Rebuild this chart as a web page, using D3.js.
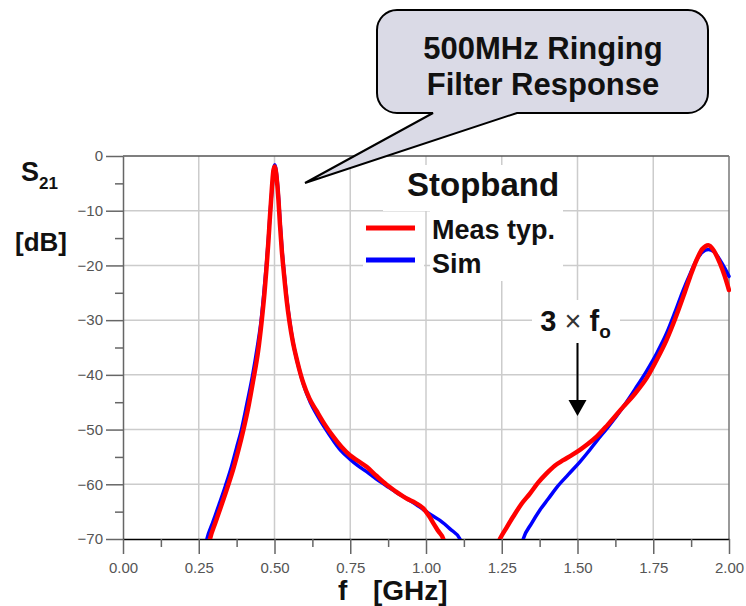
<!DOCTYPE html>
<html>
<head>
<meta charset="utf-8">
<script src="https://cdn.jsdelivr.net/npm/d3@7"></script>
<style>
  body { margin: 0; background: #fff; }
  svg { display: block; font-family: "Liberation Sans", Arial, sans-serif; }
</style>
</head>
<body>
<svg id="chart" width="746" height="606"></svg>
<script>
// frequency axis [GHz] and S21 axis [dB]
var xTicks = [0, 0.25, 0.5, 0.75, 1.0, 1.25, 1.5, 1.75, 2.0];
var xMinorTicks = [0.125, 0.375, 0.625, 0.875, 1.125, 1.375, 1.625, 1.875];
var yTicks = [0, -10, -20, -30, -40, -50, -60, -70];
var yMinorTicks = [-5, -15, -25, -35, -45, -55, -65];

// measured, fundamental lobe
var measLowF = [0.283, 0.287, 0.305, 0.325, 0.345, 0.365, 0.382, 0.397, 0.415, 0.430, 0.445, 0.458, 0.467, 0.474, 0.480, 0.485, 0.490, 0.496, 0.500,
  0.504, 0.508, 0.513, 0.518, 0.524, 0.532, 0.540, 0.550, 0.560, 0.575, 0.595, 0.615, 0.639, 0.665, 0.694, 0.720, 0.749, 0.775,
  0.804, 0.835, 0.870, 0.900, 0.936, 0.965, 0.991, 1.010, 1.024, 1.040, 1.057, 1.062];
var measLowDb = [-71, -70, -67, -63.8, -60.5, -57, -53.5, -50.1, -45.5, -40.9, -36, -30, -25, -20.2, -15.5, -11.1, -7, -2.8, -1.9,
  -2.6, -4.5, -8, -12.5, -17.2, -22, -26.3, -30.5, -33.8, -37.5, -41.5, -44.3, -46.6, -49, -51.3, -53.1, -54.7, -55.7,
  -56.8, -58.4, -60.1, -61.3, -62.6, -63.4, -64.4, -65.8, -67.1, -68.5, -70, -71];

// simulated, fundamental lobe
var simLowF = [0.273, 0.277, 0.296, 0.317, 0.338, 0.358, 0.375, 0.391, 0.410, 0.428, 0.443, 0.456, 0.465, 0.473, 0.480, 0.486, 0.492, 0.497, 0.501,
  0.505, 0.509, 0.514, 0.519, 0.525, 0.533, 0.541, 0.551, 0.561, 0.577, 0.597, 0.618, 0.640, 0.665, 0.694, 0.720, 0.749, 0.775,
  0.804, 0.835, 0.870, 0.900, 0.936, 0.965, 0.991, 1.020, 1.046, 1.080, 1.112, 1.118];
var simLowDb = [-71, -70, -67, -63.7, -60.3, -56.8, -53.3, -50, -45, -40, -35, -30, -25, -20, -15, -10, -6, -2.5, -1.6,
  -2.5, -4.5, -8, -12.5, -17.2, -22, -26.3, -30.5, -34, -38, -42, -45, -47.3, -49.6, -52, -53.9, -55.4, -56.6,
  -57.7, -59, -60.3, -61.4, -62.6, -63.6, -64.6, -65.7, -66.6, -68.2, -70, -71];

// measured, third harmonic lobe
var measHighF = [1.236, 1.244, 1.265, 1.288, 1.315, 1.343, 1.370, 1.398, 1.425, 1.453, 1.480, 1.508, 1.535, 1.563, 1.600, 1.650,
  1.690, 1.728, 1.762, 1.794, 1.822, 1.849, 1.872, 1.893, 1.912, 1.932, 1.950, 1.970, 1.985, 2.0];
var measHighDb = [-71, -70, -68, -65.9, -63.6, -61.7, -59.7, -58, -56.6, -55.6, -54.7, -53.7, -52.6, -51.3, -49.1, -45.9,
  -43.4, -40.6, -37.2, -33.6, -29.8, -25.7, -22, -19, -17, -16.3, -17.3, -19.6, -21.8, -24.5];

// simulated, third harmonic lobe
var simHighF = [1.316, 1.321, 1.348, 1.376, 1.403, 1.431, 1.470, 1.508, 1.535, 1.563, 1.600, 1.650,
  1.690, 1.728, 1.762, 1.794, 1.822, 1.849, 1.872, 1.893, 1.912, 1.932, 1.950, 1.970, 1.985, 2.0];
var simHighDb = [-71, -70, -67.2, -64.7, -62.7, -60.6, -58.2, -55.9, -54.1, -52.1, -49.6, -45.9,
  -42.6, -39.3, -36, -32.4, -28.5, -24.5, -21.5, -19, -17.6, -17.1, -17.5, -19, -20.4, -22];

var svg = d3.select('#chart');
var x = d3.scaleLinear().domain([0, 2]).range([123, 729]);
var y = d3.scaleLinear().domain([-70, 0]).range([539, 156]);

// grid
var grid = svg.append('g').attr('stroke', '#cccccc').attr('stroke-width', 1.5);
grid.selectAll('line.v').data(xTicks.slice(1, -1)).enter().append('line')
  .attr('x1', d => x(d)).attr('x2', d => x(d)).attr('y1', y(0)).attr('y2', y(-70));
grid.selectAll('line.h').data(yTicks.slice(1, -1)).enter().append('line')
  .attr('x1', x(0)).attr('x2', x(2)).attr('y1', d => y(d)).attr('y2', d => y(d));

// white patches behind the legend and the 3 x fo label
var patches = [[383, 165, 180, 46], [363, 215, 61, 62], [430, 211, 133, 70], [532, 300, 88, 43]];
svg.selectAll('rect.patch').data(patches).enter().append('rect')
  .attr('x', d => d[0]).attr('y', d => d[1]).attr('width', d => d[2]).attr('height', d => d[3])
  .attr('fill', '#fff');

// frame top / right
svg.append('line').attr('x1', x(0)).attr('x2', x(2)).attr('y1', y(0)).attr('y2', y(0))
  .attr('stroke', '#555').attr('stroke-width', 1.5);
svg.append('line').attr('x1', x(2)).attr('x2', x(2)).attr('y1', y(0)).attr('y2', y(-70))
  .attr('stroke', '#777').attr('stroke-width', 1.5);

// axes
function styleAxis(g) {
  g.selectAll('.tick line').attr('stroke', '#666').attr('stroke-width', 1.5);
  g.selectAll('.tick text').attr('fill', '#555').style('font-size', '15px')
    .style('font-family', '"Liberation Sans", Arial, sans-serif');
}
var yAxis = svg.append('g').attr('transform', 'translate(' + x(0) + ',0)')
  .call(d3.axisLeft(y).tickValues(yTicks).tickFormat(d3.format('d')).tickSize(17).tickPadding(3).tickSizeOuter(0));
yAxis.select('.domain').attr('stroke', '#666').attr('stroke-width', 1.5);
styleAxis(yAxis);
svg.append('g').attr('transform', 'translate(' + x(0) + ',0)')
  .call(d3.axisLeft(y).tickValues(yMinorTicks).tickFormat('').tickSize(8).tickSizeOuter(0))
  .call(g => g.select('.domain').remove()).call(styleAxis);

var xAxis = svg.append('g').attr('transform', 'translate(0,' + y(-70) + ')')
  .call(d3.axisBottom(x).tickValues(xTicks).tickFormat(d3.format('.2f')).tickSize(15).tickPadding(8).tickSizeOuter(0));
xAxis.select('.domain').attr('stroke', '#000').attr('stroke-width', 1.5);
styleAxis(xAxis);
svg.append('g').attr('transform', 'translate(0,' + y(-70) + ')')
  .call(d3.axisBottom(x).tickValues(xMinorTicks).tickFormat('').tickSize(8).tickSizeOuter(0))
  .call(g => g.select('.domain').remove()).call(styleAxis);

// curves
svg.append('clipPath').attr('id', 'plotClip').append('rect')
  .attr('x', x(0)).attr('y', y(0) - 10).attr('width', x(2) - x(0) + 2).attr('height', y(-70) - y(0) + 10);
var line = d3.line().x(d => x(d[0])).y(d => y(d[1])).curve(d3.curveMonotoneX);
var curves = svg.append('g').attr('clip-path', 'url(#plotClip)').attr('fill', 'none')
  .attr('stroke-linejoin', 'round').attr('stroke-linecap', 'round');
[[simLowF, simLowDb], [simHighF, simHighDb]].forEach(function (s) {
  curves.append('path').attr('d', line(d3.zip(s[0], s[1]))).attr('stroke', '#0000ff').attr('stroke-width', 3.5);
});
[[measLowF, measLowDb], [measHighF, measHighDb]].forEach(function (s) {
  curves.append('path').attr('d', line(d3.zip(s[0], s[1]))).attr('stroke', '#ff0000').attr('stroke-width', 4.5);
});

// legend
svg.append('text').attr('x', 407).attr('y', 196).attr('font-size', 33).attr('font-weight', 'bold')
  .attr('fill', '#111').text('Stopband');
svg.append('line').attr('x1', 366).attr('x2', 415).attr('y1', 228).attr('y2', 228)
  .attr('stroke', '#ff0000').attr('stroke-width', 5);
svg.append('line').attr('x1', 366).attr('x2', 415).attr('y1', 260).attr('y2', 260)
  .attr('stroke', '#0000ff').attr('stroke-width', 5);
svg.append('text').attr('x', 432).attr('y', 239).attr('font-size', 27).attr('font-weight', 'bold')
  .attr('fill', '#111').text('Meas typ.');
svg.append('text').attr('x', 432).attr('y', 273).attr('font-size', 27).attr('font-weight', 'bold')
  .attr('fill', '#111').text('Sim');

// 3 x fo annotation
var tf = svg.append('text').attr('x', x(1.5) - 2).attr('y', 331).attr('text-anchor', 'middle')
  .attr('font-size', 29).attr('fill', '#111');
tf.append('tspan').attr('font-weight', 'bold').text('3 ');
tf.append('tspan').attr('font-weight', 'normal').attr('fill', '#333').text('\u00d7 ');
tf.append('tspan').attr('font-weight', 'bold').text('f');
tf.append('tspan').attr('font-weight', 'bold').attr('font-size', 19).attr('dy', 7).text('o');
svg.append('line').attr('x1', x(1.5)).attr('x2', x(1.5)).attr('y1', 343).attr('y2', 402)
  .attr('stroke', '#000').attr('stroke-width', 2);
svg.append('path').attr('d', 'M' + (x(1.5) - 9) + ',400 L' + (x(1.5) + 9) + ',400 L' + x(1.5) + ',416 Z')
  .attr('fill', '#000');

// axis titles
var s21 = svg.append('text').attr('x', 21).attr('y', 181).attr('font-size', 27).attr('font-weight', 'bold').attr('fill', '#111');
s21.append('tspan').text('S');
s21.append('tspan').attr('font-size', 17).attr('dy', 8).text('21');
svg.append('text').attr('x', 15).attr('y', 251).attr('font-size', 26).attr('font-weight', 'bold').attr('fill', '#111').text('[dB]');
svg.append('text').attr('x', 338).attr('y', 600).attr('font-size', 28).attr('font-weight', 'bold').attr('fill', '#111').text('f');
svg.append('text').attr('x', 373).attr('y', 600).attr('font-size', 28).attr('font-weight', 'bold').attr('fill', '#111').text('[GHz]');

// callout bubble
var callout = 'M397,10 H688 A20,20 0 0 1 708,30 V93 A20,20 0 0 1 688,113 H517 L305,183 L433,113 H397 ' +
  'A20,20 0 0 1 377,93 V30 A20,20 0 0 1 397,10 Z';
svg.append('path').attr('d', callout).attr('fill', '#dadae6').attr('stroke', '#000').attr('stroke-width', 2);
svg.append('text').attr('x', 543).attr('y', 59).attr('text-anchor', 'middle').attr('font-size', 31)
  .attr('font-weight', 'bold').attr('fill', '#111').text('500MHz Ringing');
svg.append('text').attr('x', 543).attr('y', 95).attr('text-anchor', 'middle').attr('font-size', 31)
  .attr('font-weight', 'bold').attr('fill', '#111').text('Filter Response');
</script>
</body>
</html>
